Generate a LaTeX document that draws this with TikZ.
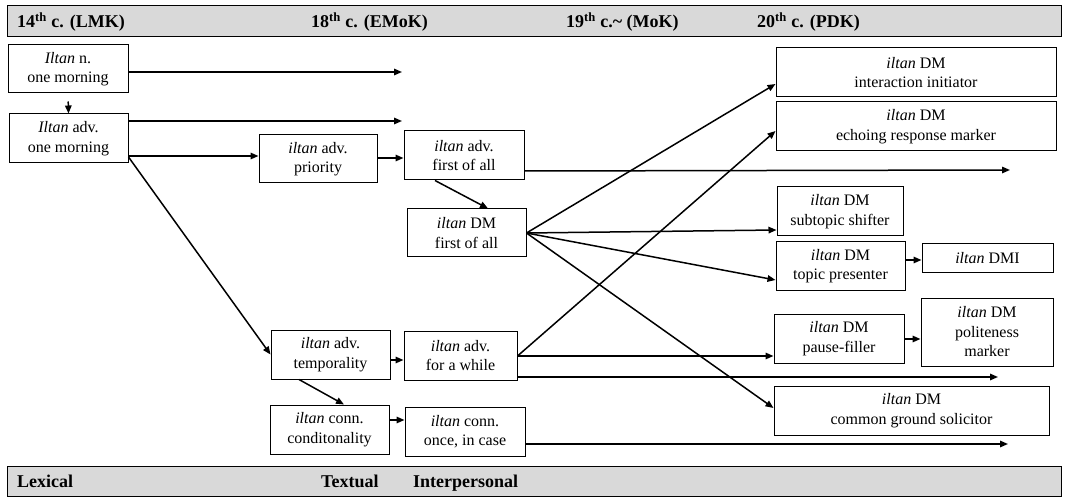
\documentclass[tikz,border=0pt]{standalone}
\usepackage{fontspec}
\setmainfont{Liberation Serif}
\usetikzlibrary{arrows.meta}
\definecolor{barfill}{HTML}{D9D9D9}
\begin{document}
\begin{tikzpicture}[x=1pt,y=-1pt,
  box/.style={draw, line width=1pt, align=center, inner sep=0pt, font=\fontsize{16}{19.5}\selectfont},
  arr/.style={line width=1.5pt, -{Triangle[length=8pt,width=6.5pt]}},
  hdr/.style={font=\fontsize{18}{20}\selectfont\bfseries, anchor=base west, inner sep=0pt},
  bar/.style={draw, line width=1pt, fill=barfill}]
\useasboundingbox (0,0) rectangle (1066,497);
% bars
\draw[bar] (7,6) rectangle (1061,37);
\draw[bar] (7,466) rectangle (1061,496);
\node[hdr] (h1) at (17,28) {14\textsuperscript{th} c. (LMK)};
\node[hdr] (h2) at (311,28) {18\textsuperscript{th} c. (EMoK)};
\node[hdr] (h3) at (566,28) {19\textsuperscript{th} c.\textasciitilde{} (MoK)};
\node[hdr] (h4) at (757,28) {20\textsuperscript{th} c. (PDK)};
\node[hdr] (f1) at (17,487) {Lexical};
\node[hdr] (f2) at (321,487) {Textual};
\node[hdr] (f3) at (413,487) {Interpersonal};
% boxes
\node[box, minimum width=120pt, minimum height=48pt] (A) at (68,69) {\textit{Iltan} n.\\one morning};
\node[box, minimum width=119pt, minimum height=49pt] (B) at (68.5,138.5) {\textit{Iltan} adv.\\one morning};
\node[box, minimum width=118pt, minimum height=48pt] (C) at (318,159) {\textit{iltan} adv.\\priority};
\node[box, minimum width=120pt, minimum height=49pt] (D) at (464,155.5) {\textit{iltan} adv.\\first of all};
\node[box, minimum width=119pt, minimum height=48pt] (E) at (466.5,233) {\textit{iltan} DM\\first of all};
\node[box, minimum width=119pt, minimum height=49pt] (F) at (330.5,354.5) {\textit{iltan} adv.\\temporality};
\node[box, minimum width=113pt, minimum height=49pt] (G) at (460.5,355.5) {\textit{iltan} adv.\\for a while};
\node[box, minimum width=119pt, minimum height=49pt] (H) at (329.5,429.5) {\textit{iltan} conn.\\conditonality};
\node[box, minimum width=120pt, minimum height=49pt] (I) at (465,431.5) {\textit{iltan} conn.\\once, in case};
\node[box, minimum width=280pt, minimum height=49pt] (J) at (916,72.5) {\textit{iltan} DM\\interaction initiator};
\node[box, minimum width=280pt, minimum height=49pt] (K) at (916,126.5) {\textit{iltan} DM\\echoing response marker};
\node[box, minimum width=126pt, minimum height=49pt] (L) at (840,211.5) {\textit{iltan} DM\\subtopic shifter};
\node[box, minimum width=129pt, minimum height=48pt] (M) at (840.5,266) {\textit{iltan} DM\\topic presenter};
\node[box, minimum width=131pt, minimum height=29pt] (N) at (987.5,258.5) {\textit{iltan} DMI};
\node[box, minimum width=130pt, minimum height=49pt] (O) at (839,338.5) {\textit{iltan} DM\\pause-filler};
\node[box, minimum width=132pt, minimum height=68pt] (P) at (987,332) {\textit{iltan} DM\\politeness\\marker};
\node[box, minimum width=275pt, minimum height=49pt] (Q) at (911.5,410.5) {\textit{iltan} DM\\common ground solicitor};
% free ends
\coordinate (a1) at (402,72);
\coordinate (b1) at (402,121);
\coordinate (d1) at (1010,170);
\coordinate (g1) at (998,377);
\coordinate (i1) at (1008,444);
% connectors
\draw[arr] (A.east |- a1) -- (a1);
\draw[arr, shorten <=8pt] (A.south) -- (B.north);
\draw[arr] (B.east |- b1) -- (b1);
\draw[arr] (B.east |- 0,156) -- (C.west |- 0,156);
\draw[arr] (C.east |- 0,158) -- (D.west |- 0,158);
\draw[arr] (D.east |- 0,171) -- (d1);
\draw[arr] (D.south -| 435,0) -- (E.north -| 488,0);
\draw[arr] (E.east) -- (J.west |- 0,84);
\draw[arr] (E.east) -- (L.west |- 0,230);
\draw[arr] (E.east) -- (M.west |- 0,280);
\draw[arr] (E.east) -- (Q.west |- 0,408);
\draw[arr] (B.east |- 0,157) -- (F.west);
\draw[arr] (F.east |- 0,360) -- (G.west |- 0,360);
\draw[arr] (F.south -| 299,0) -- (H.north -| 344,0);
\draw[arr] (H.east |- 0,420) -- (I.west |- 0,420);
\draw[arr] (G.east |- 0,356) -- (K.west |- 0,131);
\draw[arr] (G.east |- 0,356) -- (O.west |- 0,356);
\draw[arr] (G.east |- g1) -- (g1);
\draw[arr] (I.east |- i1) -- (i1);
\draw[arr] (M.east |- 0,260) -- (N.west |- 0,260);
\draw[arr] (O.east |- 0,339) -- (P.west |- 0,339);
\end{tikzpicture}
\end{document}
